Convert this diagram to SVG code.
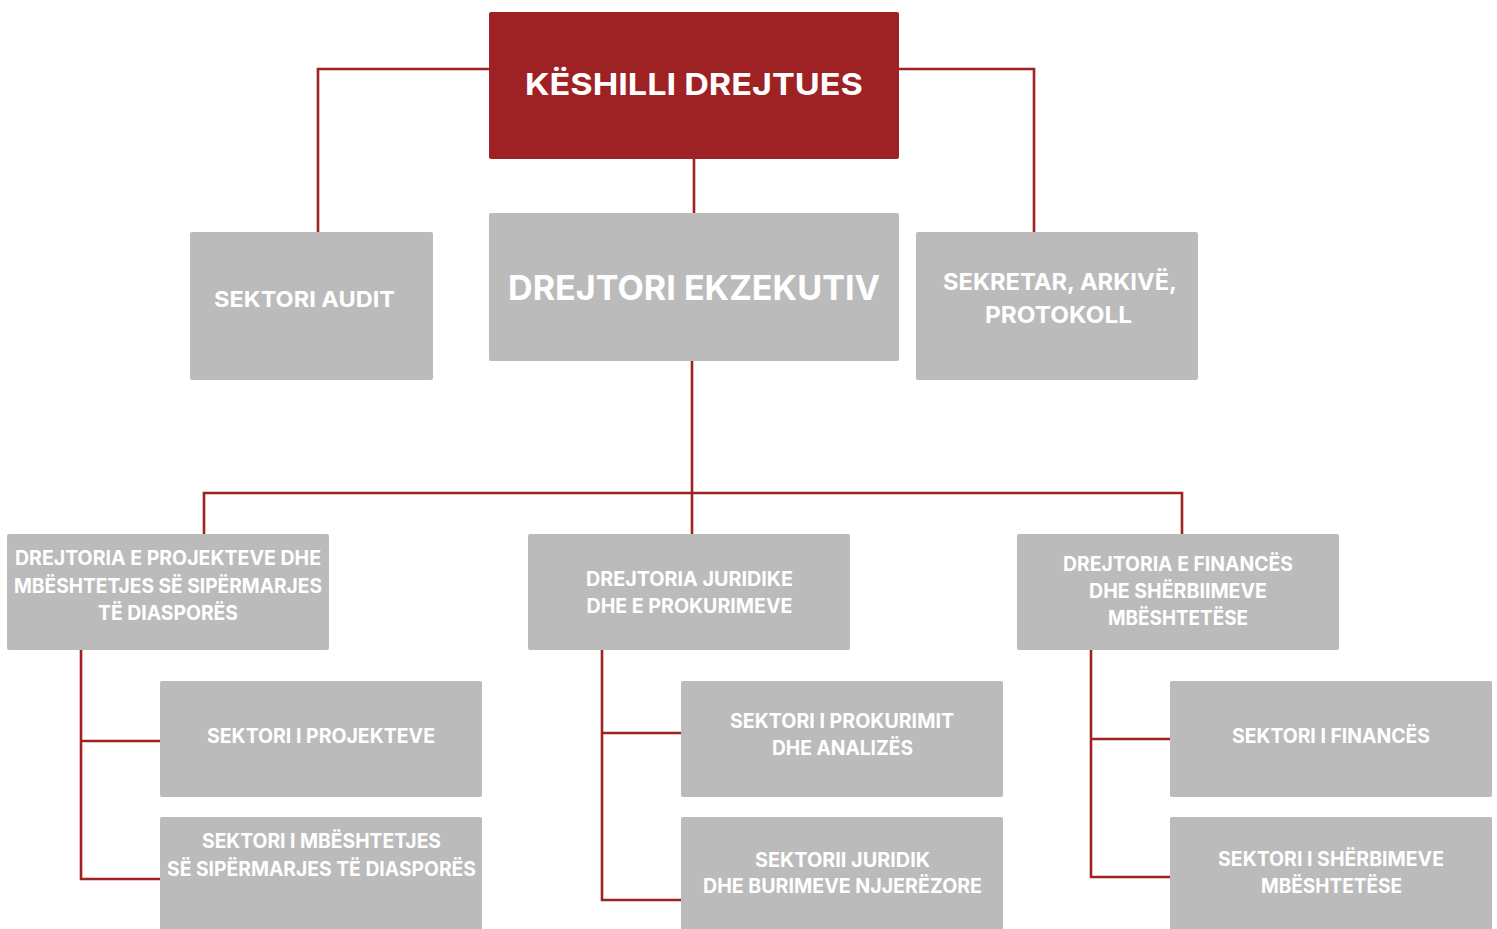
<svg xmlns="http://www.w3.org/2000/svg" width="1497" height="929" viewBox="0 0 1497 929">
<style>
.box{fill:#bbbbbb}
.red{fill:#9e2124}
.t{font-family:Inter,"Open Sans","Liberation Sans",sans-serif;font-weight:700;fill:#ffffff;text-anchor:middle}
.s20{font-size:19.5px}
.s22{font-size:22px}
.s23{font-size:23px}
.s30{font-size:30px}
.s34{font-size:34px}
.c{fill:none;stroke:#9e2124;stroke-width:2.6}
</style>
<rect width="1497" height="929" fill="#ffffff"/>
<g id="connectors">
<path class="c" d="M489 69 H318 V232"/>
<path class="c" d="M899 69 H1034 V232"/>
<path class="c" d="M694 159 V213"/>
<path class="c" d="M692 361 V534"/>
<path class="c" d="M204 534 V493 H1182 V534"/>
<path class="c" d="M81 650 V879 H160 M81 741 H160"/>
<path class="c" d="M602 650 V900 H681 M602 733 H681"/>
<path class="c" d="M1091 650 V877 H1170 M1091 739 H1170"/>
</g>
<g id="keshilli">
<rect class="red" x="489" y="12" width="410" height="147" rx="2"/>
<text class="t s30" x="694" y="95" textLength="338" lengthAdjust="spacingAndGlyphs">KËSHILLI DREJTUES</text>
</g>
<g id="audit">
<rect class="box" x="190" y="232" width="243" height="148" rx="2"/>
<text class="t s22" x="304.5" y="307" textLength="181" lengthAdjust="spacingAndGlyphs">SEKTORI AUDIT</text>
</g>
<g id="drejtori">
<rect class="box" x="489" y="213" width="410" height="148" rx="2"/>
<text class="t s34" x="694" y="300" textLength="372" lengthAdjust="spacingAndGlyphs">DREJTORI EKZEKUTIV</text>
</g>
<g id="sekretar">
<rect class="box" x="916" y="232" width="282" height="148" rx="2"/>
<text class="t s23" x="1060" y="290" textLength="234" lengthAdjust="spacingAndGlyphs">SEKRETAR, ARKIVË,</text>
<text class="t s23" x="1058.5" y="323" textLength="147" lengthAdjust="spacingAndGlyphs">PROTOKOLL</text>
</g>
<g id="dir-projekteve">
<rect class="box" x="7" y="534" width="322" height="116" rx="2"/>
<text class="t s20" x="168" y="565" textLength="306" lengthAdjust="spacingAndGlyphs">DREJTORIA E PROJEKTEVE DHE</text>
<text class="t s20" x="168" y="593" textLength="308" lengthAdjust="spacingAndGlyphs">MBËSHTETJES SË SIPËRMARJES</text>
<text class="t s20" x="168" y="620" textLength="140" lengthAdjust="spacingAndGlyphs">TË DIASPORËS</text>
</g>
<g id="dir-juridike">
<rect class="box" x="528" y="534" width="322" height="116" rx="2"/>
<text class="t s20" x="689.5" y="586" textLength="207" lengthAdjust="spacingAndGlyphs">DREJTORIA JURIDIKE</text>
<text class="t s20" x="689.5" y="613" textLength="206" lengthAdjust="spacingAndGlyphs">DHE E PROKURIMEVE</text>
</g>
<g id="dir-finances">
<rect class="box" x="1017" y="534" width="322" height="116" rx="2"/>
<text class="t s20" x="1178" y="571" textLength="230" lengthAdjust="spacingAndGlyphs">DREJTORIA E FINANCËS</text>
<text class="t s20" x="1178" y="598" textLength="178" lengthAdjust="spacingAndGlyphs">DHE SHËRBIIMEVE</text>
<text class="t s20" x="1178" y="625" textLength="140" lengthAdjust="spacingAndGlyphs">MBËSHTETËSE</text>
</g>
<g id="sek-projekteve">
<rect class="box" x="160" y="681" width="322" height="116" rx="2"/>
<text class="t s20" x="321" y="743" textLength="228" lengthAdjust="spacingAndGlyphs">SEKTORI I PROJEKTEVE</text>
</g>
<g id="sek-mbeshtetjes">
<rect class="box" x="160" y="817" width="322" height="116" rx="2"/>
<text class="t s20" x="321.5" y="848" textLength="239" lengthAdjust="spacingAndGlyphs">SEKTORI I MBËSHTETJES</text>
<text class="t s20" x="321.5" y="876" textLength="309" lengthAdjust="spacingAndGlyphs">SË SIPËRMARJES TË DIASPORËS</text>
</g>
<g id="sek-prokurimit">
<rect class="box" x="681" y="681" width="322" height="116" rx="2"/>
<text class="t s20" x="842" y="728" textLength="224" lengthAdjust="spacingAndGlyphs">SEKTORI I PROKURIMIT</text>
<text class="t s20" x="842.5" y="755" textLength="141" lengthAdjust="spacingAndGlyphs">DHE ANALIZËS</text>
</g>
<g id="sek-juridik">
<rect class="box" x="681" y="817" width="322" height="116" rx="2"/>
<text class="t s20" x="842.5" y="867" textLength="175" lengthAdjust="spacingAndGlyphs">SEKTORII JURIDIK</text>
<text class="t s20" x="842.5" y="893" textLength="279" lengthAdjust="spacingAndGlyphs">DHE BURIMEVE NJJERËZORE</text>
</g>
<g id="sek-finances">
<rect class="box" x="1170" y="681" width="322" height="116" rx="2"/>
<text class="t s20" x="1331" y="743" textLength="198" lengthAdjust="spacingAndGlyphs">SEKTORI I FINANCËS</text>
</g>
<g id="sek-sherbimeve">
<rect class="box" x="1170" y="817" width="322" height="116" rx="2"/>
<text class="t s20" x="1331" y="866" textLength="226" lengthAdjust="spacingAndGlyphs">SEKTORI I SHËRBIMEVE</text>
<text class="t s20" x="1331.5" y="893" textLength="141" lengthAdjust="spacingAndGlyphs">MBËSHTETËSE</text>
</g>
</svg>
